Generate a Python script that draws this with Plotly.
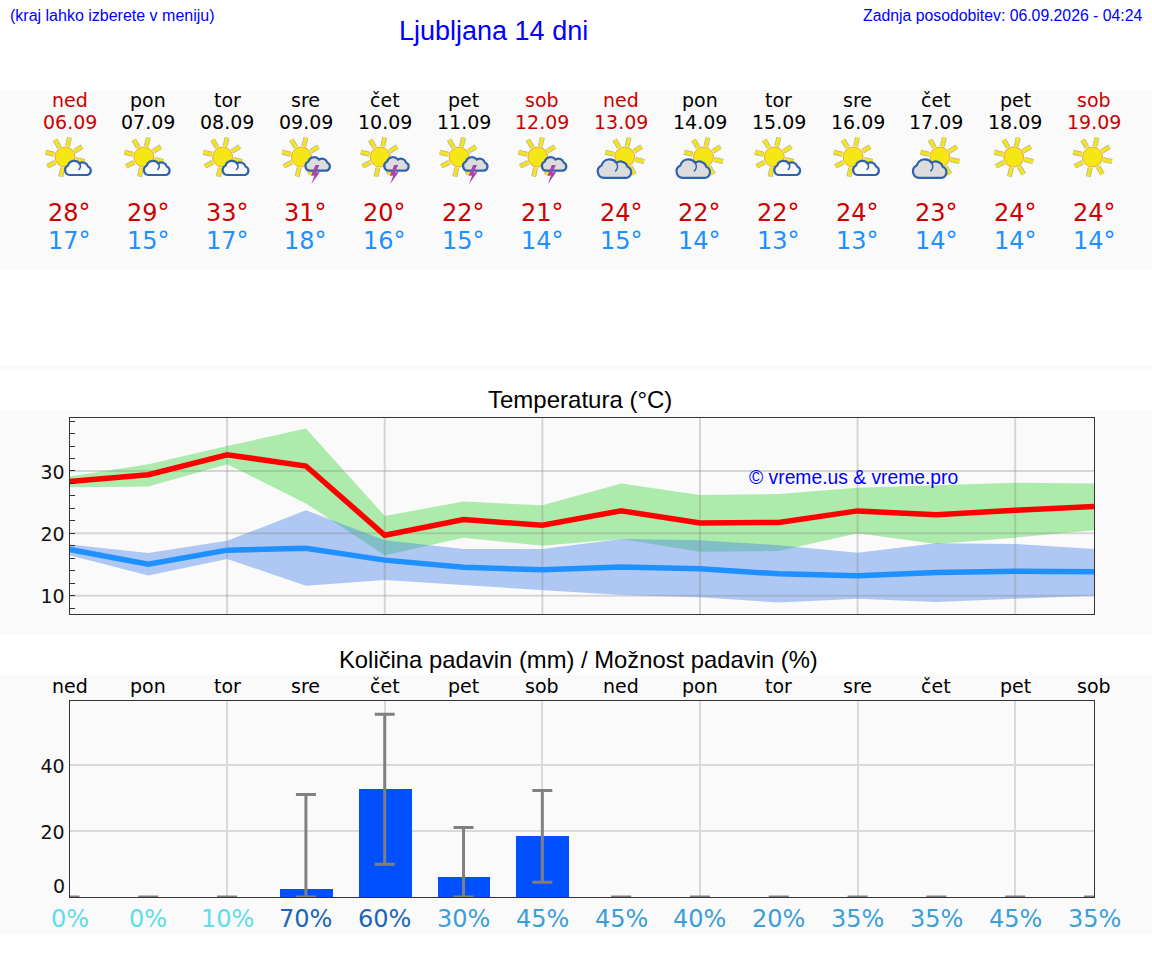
import base64
import math
import plotly.graph_objects as go

days = ["ned","pon","tor","sre","čet","pet","sob","ned","pon","tor","sre","čet","pet","sob"]
dates = ["06.09","07.09","08.09","09.09","10.09","11.09","12.09","13.09","14.09","15.09","16.09","17.09","18.09","19.09"]
max_labels = [28,29,33,31,20,22,21,24,22,22,24,23,24,24]
min_labels = [17,15,17,18,16,15,14,15,14,13,13,14,14,14]
icons = ["sc","sc","sc","st","st","st","st","cs","cs","sc","sc","cs","s","s"]
x_idx = list(range(14))

temp_max = [28.3,29.4,32.6,30.8,19.7,22.2,21.3,23.6,21.65,21.75,23.6,23.0,23.7,24.3]
temp_max_hi = [29.1,31.1,34.0,36.8,22.8,25.1,24.5,28.0,26.15,26.3,27.3,27.75,28.1,28.0]
temp_max_lo = [27.4,27.5,31.1,24.8,16.5,19.3,18.0,19.1,17.05,17.15,20.0,18.3,19.3,20.5]
temp_min = [17.4,15.05,17.3,17.6,15.7,14.55,14.15,14.6,14.3,13.5,13.2,13.7,13.9,13.85]
temp_min_hi = [18.2,16.85,18.8,23.7,18.9,17.5,17.5,19.1,18.9,18.1,16.9,18.4,18.3,17.5]
temp_min_lo = [16.5,13.25,15.9,11.6,12.5,11.7,11.0,10.1,9.75,8.9,9.5,9.0,9.5,10.0]

rain = [0,0,0,2.4,32.7,6.0,18.5,0,0,0,0,0,0,0]
rain_hi = [0,0,0,31.1,55.4,21.1,32.3,0,0,0,0,0,0,0]
rain_lo = [0,0,0,0,9.9,0,4.45,0,0,0,0,0,0,0]
chance = [0,0,10,70,60,30,45,45,40,20,35,35,45,35]
temp_ticks = [10, 20, 30]
grid_days = [2, 4, 6, 8, 10, 12]

W, H = 1152, 975
X0, X1 = 69.5, 1094
FRAME = "#333333"
GRID = "#d9d9d9"
SANS = "DejaVu Sans"
ARIAL = "Liberation Sans"
RED = "#cc0000"


def py(p):
    return 1 - p / H


def sun(cx, cy, r=10):
    out = ""
    for a in (-120, -77, -31, 13, 60, 102, 152, 194):
        t = math.radians(a)
        c, s = math.cos(t), math.sin(t)
        x1, y1, x2, y2 = cx + c * (r + 1), cy + s * (r + 1), cx + c * (r + 10), cy + s * (r + 10)
        out += f'<line x1="{x1:.1f}" y1="{y1:.1f}" x2="{x2:.1f}" y2="{y2:.1f}" stroke="#b5b5a5" stroke-width="5"/>'
        out += f'<line x1="{x1:.1f}" y1="{y1:.1f}" x2="{x2:.1f}" y2="{y2:.1f}" stroke="#f4e41c" stroke-width="3.4"/>'
    out += f'<circle cx="{cx}" cy="{cy}" r="{r}" fill="#f5e616" stroke="#f0a83a" stroke-width="1"/>'
    return out


def cloud(x, y, k, fill, curl=False):
    d = "M6 17 A5 5 0 0 1 4.5 7.5 A6.5 6.5 0 0 1 16 5.5 A5.5 5.5 0 0 1 24.5 8.5 A4.5 4.5 0 0 1 24 17 Z"
    extra = ""
    if curl:
        extra = f'<path d="M16 5.5 A5 5 0 0 1 15 12" fill="none" stroke="#2f62ad" stroke-width="{1.6 / k:.2f}"/>'
    return (f'<g transform="translate({x},{y}) scale({k})"><path d="{d}" fill="{fill}" '
            f'stroke="#2f62ad" stroke-width="{2.2 / k:.2f}" stroke-linejoin="round"/>{extra}</g>')


BOLT = '<path d="M50 35 L45.5 46 L49 45.5 L46 54 L54.5 42 L50.5 42.5 L54 35 Z" fill="#a545a8"/>'


def icon_svg(kind):
    if kind == "s":
        body = sun(39, 27)
    elif kind == "sc":
        body = sun(36, 27) + cloud(34.5, 28, 1.0, "#fafafa", True)
    elif kind == "st":
        body = sun(36, 27) + cloud(38.5, 24.5, 0.95, "#dcdcdc") + BOLT
    else:
        body = sun(44, 27) + cloud(15, 25.7, 1.3, "#dcdcdc", True)
    svg = f'<svg xmlns="http://www.w3.org/2000/svg" width="80" height="64" viewBox="0 0 80 64">{body}</svg>'
    return "data:image/svg+xml;base64," + base64.b64encode(svg.encode()).decode()


fig = go.Figure()


def band(hi, lo, color):
    fig.add_trace(go.Scatter(x=x_idx, y=hi, mode="lines", line=dict(width=0), hoverinfo="skip", showlegend=False))
    fig.add_trace(go.Scatter(x=x_idx, y=lo, mode="lines", line=dict(width=0), fill="tonexty", fillcolor=color,
                             hoverinfo="skip", showlegend=False))


band(temp_max_hi, temp_max_lo, "rgba(57,212,57,0.4)")
band(temp_min_hi, temp_min_lo, "rgba(60,125,232,0.4)")

# Grid of the temperature panel sits over the bands and under the lines
TEMP_RANGE = [7.06, 38.5]
grid_x, grid_y = [], []
for d in grid_days:
    grid_x += [d, d, None]
    grid_y += [TEMP_RANGE[0], TEMP_RANGE[1], None]
for t in temp_ticks:
    grid_x += [0, 13, None]
    grid_y += [t, t, None]
fig.add_trace(go.Scatter(x=grid_x, y=grid_y, mode="lines", line=dict(color="rgba(128,128,128,0.3)", width=2),
                         hoverinfo="skip", showlegend=False))

fig.add_trace(go.Scatter(x=x_idx, y=temp_max, mode="lines", line=dict(color="#ff0000", width=5.5), showlegend=False))
fig.add_trace(go.Scatter(x=x_idx, y=temp_min, mode="lines", line=dict(color="#1e90ff", width=5.5), showlegend=False))

fig.add_trace(go.Bar(x=x_idx, y=rain, width=0.67, marker=dict(color="#0050ff", line=dict(width=0)), showlegend=False,
                     xaxis="x2", yaxis="y2"))
fig.add_trace(go.Scatter(x=x_idx, y=rain, mode="markers", marker=dict(size=1, opacity=0), showlegend=False,
                         xaxis="x2", yaxis="y2", hoverinfo="skip",
                         error_y=dict(type="data", symmetric=False,
                                      array=[a - b for a, b in zip(rain_hi, rain)],
                                      arrayminus=[b - c for b, c in zip(rain, rain_lo)],
                                      color="#808080", thickness=3, width=10)))

axis_common = dict(range=[0, 13], showticklabels=False, tickvals=grid_days, ticks="",
                   gridcolor=GRID, gridwidth=2, zeroline=False, showline=True, linecolor=FRAME, linewidth=1,
                   mirror=True)
yaxis_common = dict(gridcolor=GRID, gridwidth=2, zeroline=False, showline=True, linecolor=FRAME, linewidth=1,
                    mirror=True, tickfont=dict(family=SANS, size=19, color="#111111"), ticklabelshift=1)

fig.update_layout(
    width=W, height=H, margin=dict(l=0, r=0, t=0, b=0, pad=0), autosize=False,
    paper_bgcolor="#ffffff", plot_bgcolor="rgba(0,0,0,0)", bargap=0, hovermode=False,
    xaxis=dict(domain=[X0 / W, X1 / W], anchor="y", showgrid=False, **axis_common),
    yaxis=dict(domain=[py(614), py(418)], range=TEMP_RANGE, anchor="x", tickvals=temp_ticks, showgrid=False,
               ticks="inside", ticklen=0, tickcolor=FRAME,
               minor=dict(dtick=2, ticks="inside", ticklen=5, tickwidth=1, tickcolor=FRAME, showgrid=False, tick0=0),
               **yaxis_common),
    xaxis2=dict(domain=[X0 / W, X1 / W], anchor="y2", showgrid=True, **axis_common),
    yaxis2=dict(domain=[py(897), py(701)], range=[0, 59.4], anchor="x2", tickvals=[0, 20, 40], ticktext=["", "20", "40"],
                ticks="", showgrid=True, **yaxis_common),
)

shapes = []
for top, bottom in [(90, 270), (365, 370), (410, 635), (675, 935)]:
    shapes.append(dict(type="rect", xref="paper", yref="paper", x0=0, x1=1, y0=py(top), y1=py(bottom),
                       fillcolor="#fafafa", line=dict(width=0), layer="below"))
fig.update_layout(shapes=shapes)

ann = []


def text(s, x, y, size, color, family=SANS, xref="x", xanchor="center"):
    ann.append(dict(text=s, x=x, y=py(y), xref=xref, yref="paper", showarrow=False, xanchor=xanchor, yanchor="middle",
                    font=dict(family=family, size=size, color=color)))


text("(kraj lahko izberete v meniju)", 8 / W, 16, 16, "#0000ff", ARIAL, "paper", "left")
text("Ljubljana 14 dni", 493.5 / W, 31, 27, "#0000ff", ARIAL, "paper")
text("Zadnja posodobitev: 06.09.2026 - 04:24", 1145 / W, 16, 15.8, "#0000ff", ARIAL, "paper", "right")
text("Temperatura (°C)", 579.5 / W, 399, 24, "#000000", ARIAL, "paper")
text("Količina padavin (mm) / Možnost padavin (%)", 578 / W, 659, 23.8, "#000000", ARIAL, "paper")
text("© vreme.us & vreme.pro", 853.5 / W, 478, 19.3, "#0000ff", ARIAL, "paper")
text("0", 58.5 / W, 886, 19, "#111111", SANS, "paper")

images = []
for i in x_idx:
    weekend = days[i] in ("ned", "sob")
    col = RED if weekend else "#000000"
    text(days[i], i, 100.5, 19, col)
    text(dates[i], i, 122, 19, col)
    text(f"{max_labels[i]}°", i, 213, 24, RED)
    text(f"{min_labels[i]}°", i, 241, 24, "#1e90ff")
    text(days[i], i, 686, 19, "#000000")
    c = chance[i]
    pc = "#5fdde8" if c <= 10 else ("#1a66b8" if c >= 60 else "#3a9fd9")
    text(f"{c}%", i, 919, 24, pc)
    images.append(dict(source=icon_svg(icons[i]), xref="paper", yref="paper",
                       x=(X0 - 0.5 + i * (X1 - X0) / 13) / W, y=py(130),
                       sizex=80 / W, sizey=64 / H, xanchor="center", yanchor="top", sizing="stretch",
                       layer="above"))

fig.update_layout(annotations=ann, images=images)
fig.write_html("out.html", config=dict(displayModeBar=False), post_script="document.body.style.margin='0';")
